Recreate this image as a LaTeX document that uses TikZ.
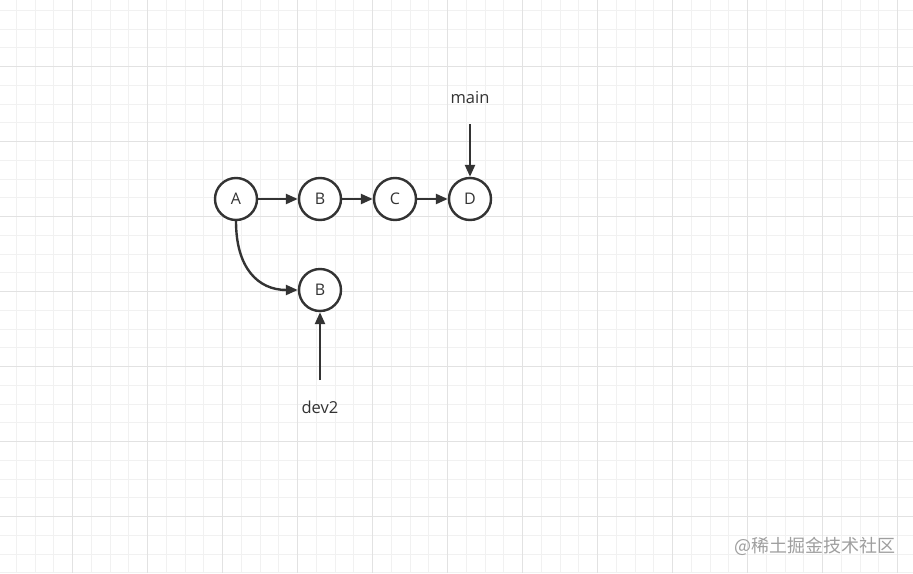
\documentclass[tikz,border=0pt]{standalone}
\usepackage{fontspec}
\setmainfont{Open Sans}
\newfontfamily\cjk{Noto Sans CJK SC}
\usetikzlibrary{arrows.meta}
\definecolor{minorgrid}{HTML}{F1F1F1}
\definecolor{majorgrid}{HTML}{E2E2E2}
\definecolor{ink}{HTML}{333333}
\begin{document}
\begin{tikzpicture}[x=1pt,y=-1pt,
  commit/.style={circle,draw=ink,line width=2.4pt,minimum size=42pt,inner sep=0pt,fill=white,text=ink,font=\fontsize{16}{16}\selectfont},
  label/.style={text=ink,font=\fontsize{16.5}{17}\selectfont,inner sep=0pt},
  conn/.style={draw=ink,line width=2.4pt,-{Triangle[length=12pt,width=10pt]}}]
\useasboundingbox (0,0) rectangle (913,573);
\fill[white] (0,0) rectangle (913,573);
% minor grid
\foreach \i in {0,...,49} {
  \draw[minorgrid,line width=1pt] ({-2.3+\i*18.75},0) -- ({-2.3+\i*18.75},573);
}
\foreach \j in {0,...,31} {
  \draw[minorgrid,line width=1pt] (0,{-8.3+\j*18.75}) -- (913,{-8.3+\j*18.75});
}
% major grid
\foreach \i in {0,...,12} {
  \draw[majorgrid,line width=1pt] ({-2.3+\i*75},0) -- ({-2.3+\i*75},573);
}
\foreach \j in {0,...,8} {
  \draw[majorgrid,line width=1pt] (0,{-8.3+\j*75}) -- (913,{-8.3+\j*75});
}
% nodes
\node[commit] (A) at (236,199) {A};
\node[commit] (B) at (320,199) {B};
\node[commit] (C) at (395,199) {C};
\node[commit] (D) at (470,199) {D};
\node[commit] (B2) at (320,290) {B};
\node[label] (main) at (470,98) {main};
\node[label] (dev) at (320,407) {dev2};
\coordinate (mainend) at (470,124);
\coordinate (devend) at (320,380);
% connectors
\draw[conn] (A) -- (B);
\draw[conn] (B) -- (C);
\draw[conn] (C) -- (D);
\draw[conn] (mainend) -- (D);
\draw[conn] (devend) -- (B2);
\draw[conn] (A.south) .. controls (236,268) and (258,290) .. (B2.west);
% watermark
\node[text=gray!75,font=\cjk\fontsize{18}{18}\selectfont,inner sep=0pt,anchor=east] (wm) at (896,546) {@稀土掘金技术社区};
\end{tikzpicture}
\end{document}
